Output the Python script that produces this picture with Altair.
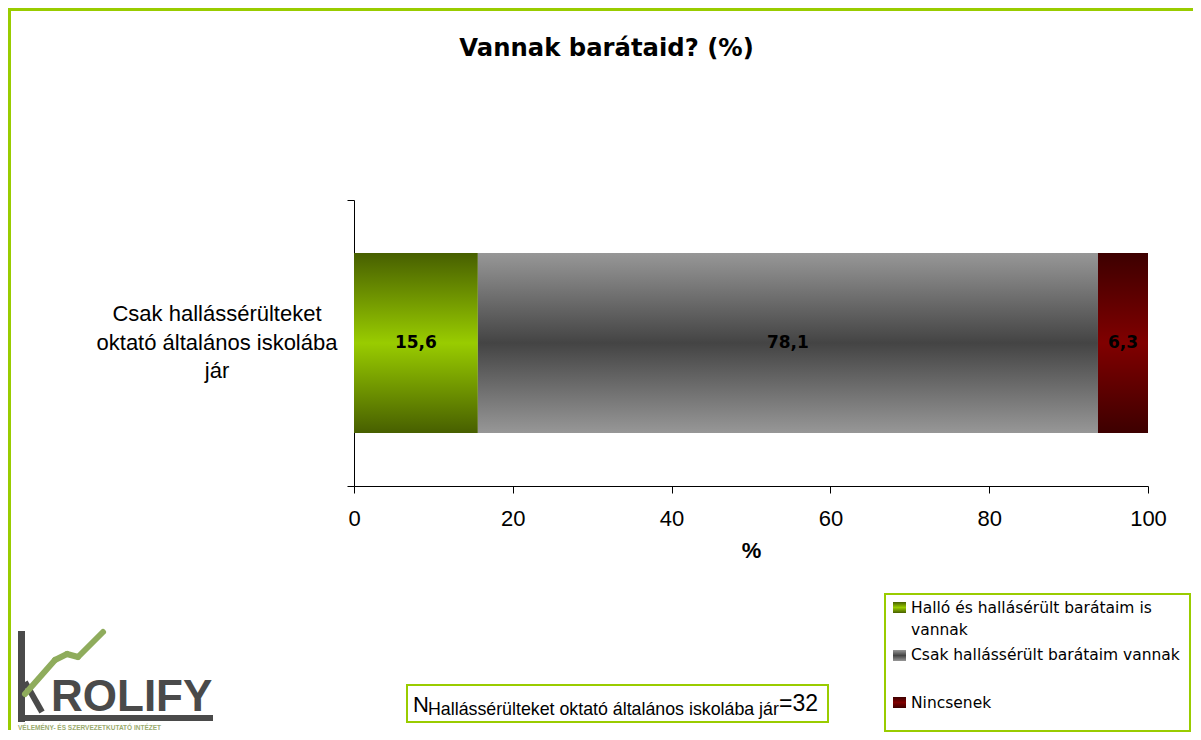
import altair as alt
import pandas as pd

# ---------------- data ----------------
group = ["Csak hallássérülteket\noktató általános iskolába\njár"]
categories = [
    "Halló és hallásérült barátaim is vannak",
    "Csak hallássérült barátaim vannak",
    "Nincsenek",
]
legend_labels = [
    "Halló és hallásérült barátaim is\nvannak",
    "Csak hallássérült barátaim vannak",
    "Nincsenek",
]
values = [15.6, 78.1, 6.3]
x_ticks = [0, 20, 40, 60, 80, 100]
title_text = "Vannak barátaid? (%)"
n_main = "N"
n_sub = "Hallássérülteket oktató általános iskolába jár"
n_value = "=32"
logo_text = "ROLIFY"
logo_sub = "VÉLEMÉNY- ÉS SZERVEZETKUTATÓ INTÉZET"

df = pd.DataFrame({
    "group": group * len(categories),
    "category": categories,
    "legend": legend_labels,
    "value": values,
    "order": list(range(len(categories))),
})
deco = pd.DataFrame({"k": [0]})

# ---------------- styles ----------------
GREEN = "#99cc00"


def vgrad(edge, mid):
    return alt.LinearGradient(
        gradient="linear", x1=0, x2=0, y1=0, y2=1,
        stops=[alt.GradientStop(offset=0, color=edge),
               alt.GradientStop(offset=0.5, color=mid),
               alt.GradientStop(offset=1, color=edge)])


grads = [vgrad("#475f00", "#99cc00"), vgrad("#979797", "#444444"), vgrad("#3d0000", "#800000")]

W, H = 794, 286

x_enc = alt.X("start:Q", scale=alt.Scale(domain=[0, 100], nice=False),
              axis=alt.Axis(values=x_ticks, title="%", grid=False, tickSize=7,
                            labelFlush=False, labelFont="Liberation Sans", labelFontSize=22,
                            labelColor="#000", labelPadding=15,
                            titleFont="Liberation Sans", titleFontSize=22, titleFontWeight="bold",
                            titleColor="#000", titlePadding=11,
                            domainColor="#000", tickColor="#000"))
y_enc = alt.Y("group:N", scale=alt.Scale(paddingInner=0, paddingOuter=0),
              axis=alt.Axis(labels=False, title=None, tickBand="extent", tickSize=7,
                            domainColor="#000", tickColor="#000", grid=False))

base = alt.Chart(df).transform_window(
    cum="sum(value)", sort=[alt.SortField("order")]
).transform_calculate(
    start="datum.cum - datum.value",
    mid="datum.cum - datum.value / 2",
    label="replace(format(datum.value, '.1f'), '.', ',')",
)

layers = []

# frame lines
dchart = alt.Chart(deco)
layers.append(dchart.mark_rule(color=GREEN, strokeWidth=4).encode(
    x=alt.value(-348), x2=alt.value(840), y=alt.value(-191)))
layers.append(dchart.mark_rule(color=GREEN, strokeWidth=4).encode(
    x=alt.value(-345), y=alt.value(-193), y2=alt.value(530)))

# legend box and N box
layers.append(dchart.mark_rect(fill="white", stroke=GREEN, strokeWidth=2).encode(
    x=alt.value(531), x2=alt.value(836), y=alt.value(394), y2=alt.value(531)))
layers.append(dchart.mark_rect(fill="white", stroke=GREEN, strokeWidth=2).encode(
    x=alt.value(53), x2=alt.value(474), y=alt.value(485), y2=alt.value(522)))

# logo
layers.append(dchart.mark_rect(color="#4a4a4a").encode(
    x=alt.value(-336), x2=alt.value(-329), y=alt.value(431), y2=alt.value(522)))
layers.append(dchart.mark_rect(color="#4a4a4a").encode(
    x=alt.value(-336), x2=alt.value(-141), y=alt.value(515), y2=alt.value(521)))
layers.append(dchart.mark_rule(color="#4a4a4a", strokeWidth=6).encode(
    x=alt.value(-329), x2=alt.value(-312), y=alt.value(482), y2=alt.value(512)))
for (xa, ya, xb, yb) in [(-329, 494, -299, 460), (-299, 460, -287, 454),
                         (-287, 454, -276, 457), (-276, 457, -251, 432)]:
    layers.append(dchart.mark_rule(color="#8fac5c", strokeWidth=6, strokeCap="round").encode(
        x=alt.value(xa), x2=alt.value(xb), y=alt.value(ya), y2=alt.value(yb)))
layers.append(dchart.mark_text(text=logo_text, align="left", baseline="alphabetic",
                               font="Liberation Sans", fontWeight="bold", fontSize=44,
                               color="#4a4a4a").encode(x=alt.value(-303), y=alt.value(511)))
layers.append(dchart.mark_text(text=logo_sub, align="left", baseline="middle",
                               font="Liberation Sans", fontWeight="bold", fontSize=6.5,
                               color="#9aab6e").encode(x=alt.value(-336), y=alt.value(528)))

# bars
for i in range(len(categories)):
    layers.append(base.transform_filter(alt.datum.order == i).mark_bar(
        color=grads[i], height=alt.RelativeBandSize(band=0.63)).encode(
        x=x_enc, x2="cum:Q", y=y_enc))

# value labels
layers.append(base.mark_text(font="DejaVu Sans", fontWeight="bold", fontSize=17, color="#000",
                             baseline="middle").encode(
    x=alt.X("mid:Q"), y=y_enc, text="label:N"))

# category label
layers.append(alt.Chart(pd.DataFrame({"group": group})).mark_text(
    align="center", baseline="middle", lineBreak="\n", font="Liberation Sans",
    fontSize=22, lineHeight=28.5, dy=-29, color="#000").encode(
    x=alt.value(-137), y=y_enc, text="group:N"))

# title
layers.append(dchart.mark_text(text=title_text, align="center", baseline="alphabetic",
                               font="DejaVu Sans", fontWeight="bold", fontSize=24.3,
                               color="#000").encode(x=alt.value(252.5), y=alt.value(-144)))

# legend entries
sw_y = [402, 450, 497]
tx_y = [408, 455, 503]
for i in range(len(categories)):
    sub = base.transform_filter(alt.datum.order == i)
    layers.append(sub.mark_rect(color=grads[i]).encode(
        x=alt.value(539), x2=alt.value(552), y=alt.value(sw_y[i]), y2=alt.value(sw_y[i] + 11)))
    layers.append(sub.mark_text(align="left", baseline="middle", lineBreak="\n",
                                font="DejaVu Sans", fontSize=15.5, lineHeight=22,
                                color="#000").encode(
        x=alt.value(557), y=alt.value(tx_y[i]), text="legend:N"))

# N annotation
layers.append(dchart.mark_text(text=n_main, align="left", baseline="alphabetic",
                               font="Liberation Sans", fontSize=22, color="#000").encode(
    x=alt.value(59), y=alt.value(512)))
layers.append(dchart.mark_text(text=n_sub, align="left", baseline="alphabetic",
                               font="Liberation Sans", fontSize=17.8, color="#000").encode(
    x=alt.value(74), y=alt.value(515)))
layers.append(dchart.mark_text(text=n_value, align="left", baseline="alphabetic",
                               font="Liberation Sans", fontSize=23, color="#000").encode(
    x=alt.value(425), y=alt.value(511)))

chart = alt.layer(*layers).properties(
    width=W, height=H,
    padding={"left": 346, "top": 192, "right": 45, "bottom": 246},
    autosize=alt.AutoSizeParams(type="none"),
    background="white",
).configure_view(stroke=None)

chart.save("out.html", embed_options={"renderer": "svg", "actions": False})
